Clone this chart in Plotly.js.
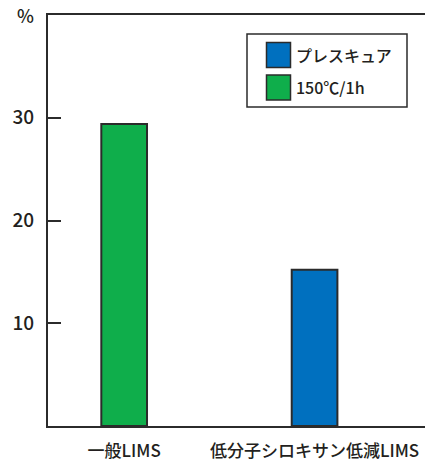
<!DOCTYPE html>
<html>
<head>
<meta charset="utf-8">
<script src="https://cdn.plot.ly/plotly-3.0.1.min.js"></script>
<style>html,body{margin:0;padding:0;background:#fff;}#chart{width:425px;height:463px;}</style>
</head>
<body>
<div id="chart"></div>
<script>
// ---- data ----
const categories = ['一般LIMS', '低分子シロキサン低減LIMS'];
const seriesNames = ['プレスキュア', '150℃/1h'];
const presscureValues = [null, 15.2];
const cure150Values = [29.4, null];
const yTickVals = [10, 20, 30];
const yTickText = ['10', '20', '30'];
const unitLabel = '%';

// ---- style ----
const FONT = '"Noto Sans CJK JP", "Noto Sans", sans-serif';
const TXT = '#231f20';
const LINE = '#2b2b2b';
const colors = ['#0070bf', '#0fae4b'];

const W = 425, H = 463;
const M = {l: 48, r: 0, t: 15, b: 37};
const pw = W - M.l - M.r, ph = H - M.t - M.b;
const px = x => (x - M.l) / pw;
const py = y => (H - M.b - y) / ph;

const traces = [
  {type: 'bar', name: seriesNames[0], x: categories, y: presscureValues,
   marker: {color: colors[0], line: {color: LINE, width: 2}}, width: 0.24, showlegend: false},
  {type: 'bar', name: seriesNames[1], x: categories, y: cure150Values,
   marker: {color: colors[1], line: {color: LINE, width: 2}}, width: 0.24, showlegend: false}
];

// custom legend (box + swatches + labels)
const shapes = [
  {type: 'rect', xref: 'paper', yref: 'paper', x0: px(247), x1: px(407), y0: py(107), y1: py(34),
   line: {color: LINE, width: 1.5}, fillcolor: '#fff'}
];
const annotations = [
  {xref: 'paper', yref: 'paper', x: px(25), y: py(15), text: unitLabel, showarrow: false,
   xanchor: 'center', yanchor: 'middle', font: {family: FONT, size: 18, color: TXT, weight: 500}}
];
const legendRows = [55, 87.5];
seriesNames.forEach((n, i) => {
  const cy = legendRows[i];
  shapes.push({type: 'rect', xref: 'paper', yref: 'paper', x0: px(266.5), x1: px(290.5),
    y0: py(cy + 12.5), y1: py(cy - 12.5), line: {color: LINE, width: 1.5}, fillcolor: colors[i]});
  annotations.push({xref: 'paper', yref: 'paper', x: px(294), y: py(cy), text: n, showarrow: false,
    xanchor: 'left', yanchor: 'middle', font: {family: FONT, size: 16, color: TXT, weight: 500}});
});

const layout = {
  width: W, height: H,
  margin: M,
  paper_bgcolor: '#fff', plot_bgcolor: '#fff',
  font: {family: FONT, color: TXT},
  barmode: 'overlay',
  showlegend: false,
  xaxis: {
    type: 'category', range: [-0.4, 1.58],
    showline: true, mirror: true, linecolor: LINE, linewidth: 2,
    ticks: '', showgrid: false, zeroline: false, ticklabelstandoff: 9,
    tickfont: {family: FONT, size: 17, color: TXT, weight: 500}
  },
  yaxis: {
    range: [0, 40], showline: true, linecolor: LINE, linewidth: 2,
    ticks: 'inside', ticklen: 13, tickwidth: 2, tickcolor: LINE,
    tickvals: yTickVals, ticktext: yTickText, ticklabelstandoff: 8,
    showgrid: false, zeroline: false,
    tickfont: {family: FONT, size: 19, color: TXT, weight: 500}
  },
  shapes: shapes,
  annotations: annotations
};

Plotly.newPlot('chart', traces, layout, {displayModeBar: false, staticPlot: true});
</script>
</body>
</html>
